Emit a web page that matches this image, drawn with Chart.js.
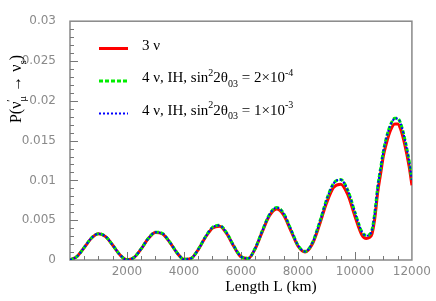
<!DOCTYPE html>
<html>
<head>
<meta charset="utf-8">
<script src="https://cdn.jsdelivr.net/npm/chart.js@4"></script>
<style>
  html, body { margin: 0; padding: 0; background: #fff; }
  canvas { display: block; }
</style>
</head>
<body>
<canvas id="chart" width="436" height="301"></canvas>
<script>
// baseline length in km
const lengthKm = [0, 250, 500, 750, 1000, 1250, 1500, 1750, 2000, 2250, 2500, 2750, 3000,
  3250, 3500, 3750, 4000, 4250, 4500, 4750, 5000, 5250, 5500, 5750, 6000, 6250, 6500,
  6750, 7000, 7250, 7500, 7750, 8000, 8250, 8500, 8750, 9000, 9250, 9500, 9750, 10000,
  10250, 10400, 10500, 10600, 10700, 10800, 10900, 11000, 11100, 11250, 11400, 11500,
  11600, 11750, 11900, 12000];

// 3 nu
const prob3nu = [0, 0.00046, 0.00157, 0.00273, 0.00329, 0.00293, 0.00185, 0.00066, 0.00002,
  0.00032, 0.0014, 0.00269, 0.00345, 0.00327, 0.00223, 0.00092, 0.00008, 0.0002, 0.0013,
  0.00283, 0.00401, 0.00425, 0.00331, 0.0017, 0.0004, 0.00018, 0.00142, 0.00357, 0.00555,
  0.0064, 0.00564, 0.0037, 0.00176, 0.001, 0.00197, 0.00435, 0.00712, 0.00912, 0.00952,
  0.0082, 0.0055, 0.0031, 0.0027, 0.0028, 0.0033, 0.0053, 0.0085, 0.0108, 0.0131, 0.0146,
  0.0163, 0.0171, 0.0171, 0.0165, 0.0145, 0.0118, 0.0094];

// 4 nu, IH, sin^2 2theta03 = 2e-4
const prob4nuA = [0, 0.00046, 0.00158, 0.00275, 0.00331, 0.00295, 0.00187, 0.00067, 0.00002,
  0.00033, 0.00142, 0.00272, 0.00349, 0.00332, 0.00227, 0.00095, 0.00009, 0.00021, 0.00133,
  0.00289, 0.0041, 0.00435, 0.0034, 0.00177, 0.00044, 0.0002, 0.00148, 0.00368, 0.00572,
  0.0066, 0.00585, 0.00387, 0.00186, 0.00108, 0.00212, 0.00462, 0.00752, 0.00963, 0.0101,
  0.00875, 0.006, 0.0035, 0.0031, 0.00318, 0.0038, 0.006, 0.0092, 0.0115, 0.0137, 0.0153,
  0.017, 0.0178, 0.0178, 0.0172, 0.0152, 0.0125, 0.0101];

// 4 nu, IH, sin^2 2theta03 = 1e-3
const prob4nuB = [0, 0.00046, 0.00158, 0.00275, 0.00331, 0.00295, 0.00187, 0.00067, 0.00002,
  0.00033, 0.00142, 0.00272, 0.00348, 0.00331, 0.00226, 0.00095, 0.00009, 0.00021, 0.00132,
  0.00288, 0.00408, 0.00433, 0.00339, 0.00176, 0.00044, 0.0002, 0.00147, 0.00366, 0.0057,
  0.00658, 0.00583, 0.00386, 0.00185, 0.00107, 0.0021, 0.0046, 0.0075, 0.0096, 0.01008,
  0.00872, 0.00598, 0.00348, 0.00305, 0.00315, 0.00378, 0.00598, 0.00918, 0.01148, 0.01368,
  0.01528, 0.01698, 0.01775, 0.01778, 0.01718, 0.01518, 0.01248, 0.01005];

const xTickLabels = ["", "2000", "4000", "6000", "8000", "10000", "12000"];
const yTickLabels = ["0", "0.005", "0.01", "0.015", "0.02", "0.025", "0.03"];

const SERIF = "'Liberation Serif', 'Times New Roman', serif";
const GREY = "#8a8a8a";

const pts = (vals) => lengthKm.map((x, i) => ({ x: x, y: vals[i] }));

// text with superscripts / subscripts: [text, kind]
function richWidth(ctx, parts, size) {
  let w = 0;
  for (const [t, kind] of parts) {
    if (kind === "n") {
      ctx.font = size + "px " + SERIF;
      w += ctx.measureText(t).width;
    } else if (kind === "both") {
      ctx.font = Math.round(size * 0.66) + "px " + SERIF;
      w += Math.max(ctx.measureText(t[0]).width, ctx.measureText(t[1]).width);
    } else {
      ctx.font = Math.round(size * 0.66) + "px " + SERIF;
      w += ctx.measureText(t).width;
    }
  }
  return w;
}

function drawRich(ctx, x, y, parts, size) {
  let cx = x;
  const small = Math.round(size * 0.66);
  for (const [t, kind] of parts) {
    if (kind === "n") {
      ctx.font = size + "px " + SERIF;
      ctx.fillText(t, cx, y);
      cx += ctx.measureText(t).width;
    } else if (kind === "sup") {
      ctx.font = small + "px " + SERIF;
      ctx.fillText(t, cx, y - size * 0.42);
      cx += ctx.measureText(t).width;
    } else if (kind === "sub") {
      ctx.font = small + "px " + SERIF;
      ctx.fillText(t, cx, y + size * 0.3);
      cx += ctx.measureText(t).width;
    } else {
      ctx.font = small + "px " + SERIF;
      ctx.fillText(t[0], cx, y - size * 0.42);
      ctx.fillText(t[1], cx, y + size * 0.3);
      cx += Math.max(ctx.measureText(t[0]).width, ctx.measureText(t[1]).width);
    }
  }
}

const legendItems = [
  { color: "#ff0000", width: 3, dash: [], parts: [["3 \u03bd", "n"]] },
  { color: "#00ee00", width: 3, dash: [4, 2], parts: [["4 \u03bd, IH, sin", "n"], ["2", "sup"], ["2\u03b8", "n"], ["03", "sub"], [" = 2\u00d710", "n"], ["-4", "sup"]] },
  { color: "#0000ff", width: 2, dash: [2, 2], parts: [["4 \u03bd, IH, sin", "n"], ["2", "sup"], ["2\u03b8", "n"], ["03", "sub"], [" = 1\u00d710", "n"], ["-3", "sup"]] },
];

const decor = {
  id: "decor",
  beforeDatasetsDraw(chart) {
    const { ctx, chartArea: a, scales } = chart;
    ctx.save();
    ctx.strokeStyle = "#888";
    ctx.lineWidth = 1.5;
    ctx.strokeRect(a.left, a.top, a.right - a.left, a.bottom - a.top);
    ctx.lineWidth = 1;
    ctx.strokeStyle = "#777";
    ctx.beginPath();
    // inward ticks on x
    for (let v = 500; v < 12000; v += 500) {
      const px = Math.round(scales.x.getPixelForValue(v)) + 0.5;
      const len = v % 2000 === 0 ? 8 : 4;
      ctx.moveTo(px, a.bottom);
      ctx.lineTo(px, a.bottom - len);
    }
    // inward ticks on y
    for (let k = 1; k < 30; k++) {
      const py = Math.round(scales.y.getPixelForValue(k / 1000)) + 0.5;
      const len = k % 5 === 0 ? 8 : 4;
      ctx.moveTo(a.left, py);
      ctx.lineTo(a.left + len, py);
    }
    ctx.stroke();
    ctx.restore();
  },
  afterDraw(chart) {
    const { ctx } = chart;
    ctx.save();
    ctx.fillStyle = "#000";
    ctx.textBaseline = "alphabetic";
    ctx.textAlign = "left";

    // legend
    const rows = [48.5, 81, 113.5];
    legendItems.forEach((it, i) => {
      ctx.strokeStyle = it.color;
      ctx.lineWidth = it.width;
      ctx.setLineDash(it.dash);
      ctx.beginPath();
      ctx.moveTo(99, rows[i]);
      ctx.lineTo(128, rows[i]);
      ctx.stroke();
      ctx.setLineDash([]);
      drawRich(ctx, 142, rows[i] + 1, it.parts, 15);
    });

    // x title
    ctx.font = "15.5px " + SERIF;
    ctx.textAlign = "center";
    ctx.fillText("Length L (km)", 271, 291);

    // y title
    const yParts = [["P(\u03bd", "n"], [["\u2032", "\u03bc"], "both"], [" \u2192 \u03bd", "n"], ["s", "sub"], [")", "n"]];
    ctx.textAlign = "left";
    const w = richWidth(ctx, yParts, 16);
    ctx.translate(21, 89);
    ctx.rotate(-Math.PI / 2);
    drawRich(ctx, -w / 2, 0, yParts, 16);
    ctx.restore();
  },
};

new Chart(document.getElementById("chart"), {
  type: "line",
  data: {
    datasets: [
      { label: "3 nu", data: pts(prob3nu), borderColor: "#ff0000", borderWidth: 3, order: 3 },
      { label: "4 nu A", data: pts(prob4nuA), borderColor: "#00ee00", borderWidth: 3, borderDash: [4, 2], order: 2 },
      { label: "4 nu B", data: pts(prob4nuB), borderColor: "#0000ff", borderWidth: 2, borderDash: [2, 2], order: 1 },
    ],
  },
  options: {
    responsive: false,
    animation: false,
    layout: { padding: { top: 15, right: 24, left: 0, bottom: 0 } },
    elements: { point: { radius: 0 }, line: { cubicInterpolationMode: "monotone", fill: false } },
    plugins: { legend: { display: false }, tooltip: { enabled: false } },
    scales: {
      x: {
        type: "linear",
        min: 0,
        max: 12000,
        afterFit: (s) => { s.height = 41; },
        grid: { display: false, drawTicks: false },
        border: { display: false },
        ticks: {
          stepSize: 2000,
          padding: 5,
          maxRotation: 0,
          autoSkip: false,
          color: GREY,
          font: { family: "'DejaVu Sans'", size: 12 },
          callback: (v, i) => xTickLabels[i],
        },
      },
      y: {
        min: 0,
        max: 0.03,
        afterFit: (s) => { s.width = 70; },
        grid: { display: false, drawTicks: false },
        border: { display: false },
        ticks: {
          stepSize: 0.005,
          padding: 14,
          color: GREY,
          font: { family: "'DejaVu Sans'", size: 12 },
          callback: (v, i) => yTickLabels[i],
        },
      },
    },
  },
  plugins: [decor],
});
</script>
</body>
</html>
